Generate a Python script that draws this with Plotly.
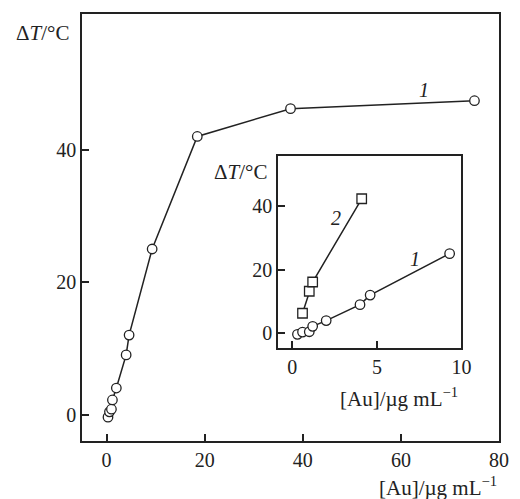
import plotly.graph_objects as go

# Main curve 1
main_x = [0.3, 0.6, 1.0, 1.2, 2.0, 4.0, 4.6, 9.3, 18.5, 37.5, 75.0]
main_y = [-0.4, 0.4, 0.8, 2.2, 4.0, 9.0, 12.0, 25.0, 42.0, 46.2, 47.4]
# Inset curve 1
in1_x = [0.3, 0.6, 1.0, 1.2, 2.0, 4.0, 4.6, 9.3]
in1_y = [-0.3, 0.4, 0.5, 2.2, 4.0, 9.0, 12.0, 25.0]
# Inset curve 2
in2_x = [0.6, 1.0, 1.2, 4.1]
in2_y = [6.3, 13.2, 16.1, 42.2]

main_xticks = [0, 20, 40, 60, 80]
main_yticks = [0, 20, 40]
inset_xticks = [0, 5, 10]
inset_yticks = [0, 20, 40]

FONT = "Liberation Serif"
INK = "#222222"

fig = go.Figure()
mk_circle = dict(symbol="circle", size=9.5, color="white", line=dict(color=INK, width=1.3))
mk_square = dict(symbol="square", size=9.5, color="white", line=dict(color=INK, width=1.3))

fig.add_trace(go.Scatter(x=main_x, y=main_y, mode="lines+markers",
                         line=dict(color=INK, width=1.5), marker=mk_circle,
                         xaxis="x", yaxis="y", showlegend=False, cliponaxis=False))
fig.add_trace(go.Scatter(x=in1_x, y=in1_y, mode="lines+markers",
                         line=dict(color=INK, width=1.5), marker=mk_circle,
                         xaxis="x2", yaxis="y2", showlegend=False))
fig.add_trace(go.Scatter(x=in2_x, y=in2_y, mode="lines+markers",
                         line=dict(color=INK, width=1.5), marker=mk_square,
                         xaxis="x2", yaxis="y2", showlegend=False))

axis_common = dict(showgrid=False, zeroline=False, showline=True, linecolor=INK,
                   linewidth=1.6, mirror=True, ticks="inside", ticklen=7,
                   tickwidth=1.5, tickcolor=INK,
                   tickfont=dict(family=FONT, size=20, color=INK))

fig.update_layout(
    width=520, height=499,
    margin=dict(l=82, r=11, t=14, b=58),
    paper_bgcolor="white", plot_bgcolor="white",
    xaxis=dict(range=[-5, 80], tickvals=main_xticks, domain=[0, 1], **axis_common),
    yaxis=dict(range=[-4, 60.5], tickvals=main_yticks, domain=[0, 1], **axis_common),
    xaxis2=dict(range=[-0.85, 10], tickvals=inset_xticks, domain=[0.470, 0.910],
                anchor="y2", **axis_common),
    yaxis2=dict(range=[-4.5, 55.6], tickvals=inset_yticks, domain=[0.2185, 0.6674],
                anchor="x2", **axis_common),
    shapes=[dict(type="rect", xref="paper", yref="paper", x0=0.470, x1=0.910,
                 y0=0.2185, y1=0.6674, fillcolor="white", line=dict(width=0), layer="below")],
)

def ann(text, x, y, xanchor="center", yanchor="middle", size=21):
    fig.add_annotation(text=text, x=x, y=y, xref="paper", yref="paper",
                       xanchor=xanchor, yanchor=yanchor, showarrow=False,
                       font=dict(family=FONT, size=size, color=INK))

ann("Δ<i>T</i>/°C", -0.0258, 0.9555, xanchor="right")
ann("Δ<i>T</i>/°C", 0.448, 0.6307, xanchor="right")
ann("[Au]/µg mL<sup>−1</sup>", 1.0, -0.1077, xanchor="right")
ann("[Au]/µg mL<sup>−1</sup>", 0.76, 0.103)
ann("<i>1</i>", 0.82, 0.822, size=20)
ann("<i>2</i>", 0.608, 0.5215, size=20)
ann("<i>1</i>", 0.798, 0.4255, size=20)

fig.write_html("out.html", config={"displayModeBar": False},
               post_script="document.body.style.margin='0';document.body.style.overflow='hidden';")
